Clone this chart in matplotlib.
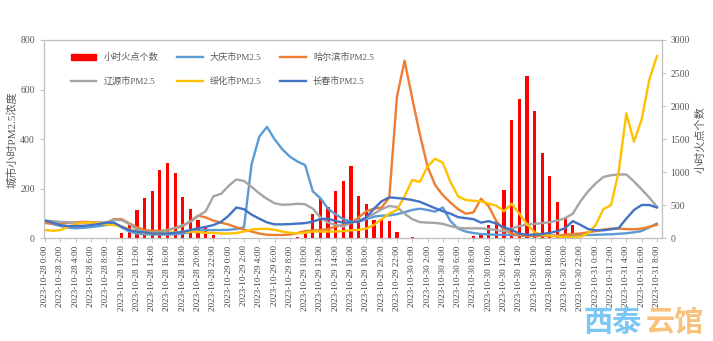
import numpy as np
import matplotlib
matplotlib.use('Agg')
import matplotlib.pyplot as plt
from matplotlib.patches import Patch

plt.rcParams['font.family'] = ['Liberation Serif', 'Noto Sans CJK SC', 'DejaVu Sans']
plt.rcParams['axes.unicode_minus'] = False

# 时间轴: 2023-10-28 0:00 ~ 2023-10-31 8:00, 每小时一个点
days = ['2023-10-28', '2023-10-29', '2023-10-30', '2023-10-31']
hours = np.arange(81)
tick_labels = ['{} {}:00'.format(days[h // 24], h % 24) for h in hours[::2]]

# 小时火点个数 (右轴)
fire = [0, 0, 0, 0, 0, 0, 0, 0, 0, 15, 85, 200, 425, 618, 720, 1030, 1135, 990, 625, 442, 287, 170, 60, 0,
        0, 0, 0, 0, 0, 0, 0, 0, 0, 30, 80, 366, 608, 482, 715, 872, 1103, 646, 528, 286, 290, 260, 98, 0,
        20, 0, 0, 0, 0, 0, 0, 0, 40, 50, 207, 258, 727, 1788, 2114, 2454, 1930, 1293, 939, 558, 328, 207, 0, 0,
        0, 0, 0, 0, 0, 0, 0, 0, 0]

# 各城市PM2.5 (左轴)
daqing = [67, 58, 50, 44, 41, 43, 46, 50, 54, 60, 45, 28, 20, 17, 16, 16, 16, 17, 20, 26, 31, 34, 34, 34,
          35, 38, 45, 300, 410, 450, 400, 360, 330, 310, 296, 190, 162, 120, 97, 78, 68, 68, 78, 88, 92, 93, 98, 106,
          115, 120, 115, 108, 125, 70, 40, 28, 22, 18, 16, 15, 15, 14, 13, 12, 12, 12, 12, 12, 12, 13, 14, 14,
          15, 16, 17, 19, 21, 25, 30, 45, 60]
harbin = [62, 60, 61, 63, 65, 67, 66, 64, 63, 78, 78, 61, 45, 34, 31, 31, 34, 41, 50, 70, 92, 85, 72, 64,
          56, 45, 36, 28, 20, 15, 14, 14, 16, 22, 30, 32, 34, 38, 48, 55, 62, 85, 110, 120, 125, 165, 570, 717,
          565, 420, 290, 215, 175, 145, 118, 100, 105, 160, 130, 70, 35, 20, 12, 10, 10, 10, 10, 12, 15, 18, 20, 25,
          30, 36, 40, 40, 38, 37, 40, 47, 55]
liaoyuan = [72, 70, 67, 65, 63, 62, 63, 63, 64, 75, 74, 58, 36, 27, 23, 25, 34, 43, 54, 67, 90, 110, 170, 180,
            212, 238, 232, 208, 182, 160, 142, 136, 137, 140, 138, 120, 85, 64, 55, 48, 65, 73, 82, 100, 118, 131, 127, 100,
            78, 66, 64, 63, 59, 50, 43, 41, 41, 41, 38, 34, 29, 40, 50, 56, 59, 62, 66, 72, 82, 100, 150, 190,
            222, 248, 255, 258, 258, 230, 198, 165, 128]
suihua = [34, 31, 34, 47, 58, 64, 64, 61, 57, 54, 50, 36, 27, 23, 20, 20, 23, 25, 27, 27, 26, 23, 23, 20,
          20, 22, 28, 36, 39, 39, 35, 28, 23, 21, 23, 28, 28, 28, 28, 30, 33, 35, 40, 55, 78, 100, 115, 170,
          236, 228, 290, 322, 305, 228, 170, 155, 152, 150, 140, 132, 110, 140, 100, 58, 25, 15, 12, 8, 6, 6, 8, 20,
          55, 118, 135, 270, 505, 390, 480, 640, 735]
changchun = [72, 64, 54, 50, 50, 51, 54, 58, 64, 64, 47, 34, 27, 25, 20, 20, 20, 23, 27, 34, 41, 47, 54, 67,
             92, 125, 118, 96, 80, 65, 57, 57, 58, 60, 62, 68, 78, 80, 70, 64, 65, 68, 85, 120, 150, 166, 163, 160,
             155, 148, 135, 122, 110, 100, 86, 82, 78, 64, 70, 60, 45, 35, 20, 15, 15, 18, 23, 30, 42, 70, 55, 38,
             33, 33, 37, 42, 80, 115, 135, 135, 125]

grey = '#595959'
spine_c = '#BFBFBF'

fig = plt.figure(figsize=(7.13, 3.41), dpi=100)
ax = fig.add_axes([0.0617, 0.3006, 0.8661, 0.5821])
ax2 = ax.twinx()   # 火点个数用右轴
ax2.bar(hours, fire, width=0.42, color='#FF0000')
ax.set_zorder(ax2.get_zorder() + 1)
ax.patch.set_visible(False)

lw = 1.7
l1, = ax.plot(hours, daqing, color='#5B9BD5', lw=lw, label='大庆市PM2.5')
l2, = ax.plot(hours, harbin, color='#ED7D31', lw=lw, label='哈尔滨市PM2.5')
l3, = ax.plot(hours, liaoyuan, color='#A5A5A5', lw=lw, label='辽源市PM2.5')
l4, = ax.plot(hours, suihua, color='#FFC000', lw=lw, label='绥化市PM2.5')
l5, = ax.plot(hours, changchun, color='#4472C4', lw=lw, label='长春市PM2.5')
bar_h = Patch(color='#FF0000', label='小时火点个数')

ax.set_xlim(-0.15, 80.6)
ax.set_ylim(0, 800)
ax2.set_ylim(0, 3000)
ax.set_yticks([0, 200, 400, 600, 800])
ax2.set_yticks([0, 500, 1000, 1500, 2000, 2500, 3000])
ax.set_xticks(hours[::2])
ax.set_xticklabels(tick_labels, rotation=90)

for a in (ax, ax2):
    for s in a.spines.values():
        s.set_color(spine_c)
        s.set_linewidth(0.8)
    a.tick_params(colors=spine_c, length=3, width=0.7, labelcolor=grey, labelsize=7)
ax.tick_params(axis='x', labelcolor='#404040', labelsize=6.6, pad=2)

ax.set_ylabel('城市小时PM2.5浓度', fontsize=8, color=grey, labelpad=2)
ax2.set_ylabel('小时火点个数', fontsize=8, color=grey, labelpad=4)

handles = [bar_h, l3, l1, l4, l2, l5]
ax.legend(handles=handles, ncol=3, loc='upper left', bbox_to_anchor=(0.03, 0.975),
          frameon=False, fontsize=6.6, labelspacing=1.6, columnspacing=2.0,
          handlelength=2.8, handleheight=0.55, labelcolor=grey)

# 水印
fig.text(0.818, 0.03, '西泰', fontsize=21, color='#7CC6F3', fontweight='bold',
         family=['Noto Sans CJK SC'])
fig.text(0.905, 0.03, '云馆', fontsize=21, color='#F8C27D', fontweight='bold',
         family=['Noto Sans CJK SC'])

plt.savefig('out.png', dpi=100, facecolor='white')
plt.close()
